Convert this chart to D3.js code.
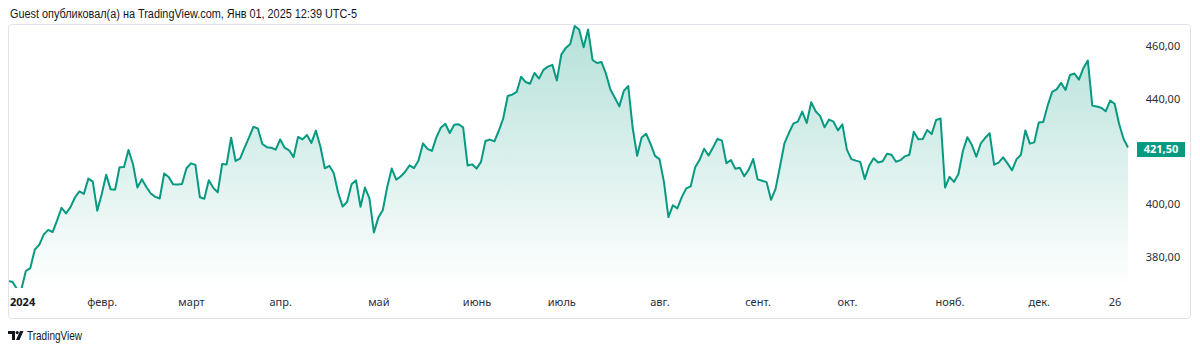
<!DOCTYPE html>
<html>
<head>
<meta charset="utf-8">
<script src="https://cdn.jsdelivr.net/npm/d3@7"></script>
<style>
  body { margin: 0; background: #fff; }
  svg { display: block; font-family: "Noto Sans", Roboto, sans-serif; }
</style>
</head>
<body>
<script>
var w = 1200;
var h = 352;

// trading days of 2024
var dates = [
  "2024-01-02","2024-01-03","2024-01-04","2024-01-05","2024-01-08","2024-01-09","2024-01-10","2024-01-11","2024-01-12","2024-01-16","2024-01-17","2024-01-18","2024-01-19","2024-01-22","2024-01-23","2024-01-24","2024-01-25","2024-01-26","2024-01-29","2024-01-30","2024-01-31",
  "2024-02-01","2024-02-02","2024-02-05","2024-02-06","2024-02-07","2024-02-08","2024-02-09","2024-02-12","2024-02-13","2024-02-14","2024-02-15","2024-02-16","2024-02-20","2024-02-21","2024-02-22","2024-02-23","2024-02-26","2024-02-27","2024-02-28","2024-02-29",
  "2024-03-01","2024-03-04","2024-03-05","2024-03-06","2024-03-07","2024-03-08","2024-03-11","2024-03-12","2024-03-13","2024-03-14","2024-03-15","2024-03-18","2024-03-19","2024-03-20","2024-03-21","2024-03-22","2024-03-25","2024-03-26","2024-03-27","2024-03-28",
  "2024-04-01","2024-04-02","2024-04-03","2024-04-04","2024-04-05","2024-04-08","2024-04-09","2024-04-10","2024-04-11","2024-04-12","2024-04-15","2024-04-16","2024-04-17","2024-04-18","2024-04-19","2024-04-22","2024-04-23","2024-04-24","2024-04-25","2024-04-26","2024-04-29","2024-04-30",
  "2024-05-01","2024-05-02","2024-05-03","2024-05-06","2024-05-07","2024-05-08","2024-05-09","2024-05-10","2024-05-13","2024-05-14","2024-05-15","2024-05-16","2024-05-17","2024-05-20","2024-05-21","2024-05-22","2024-05-23","2024-05-24","2024-05-28","2024-05-29","2024-05-30","2024-05-31",
  "2024-06-03","2024-06-04","2024-06-05","2024-06-06","2024-06-07","2024-06-10","2024-06-11","2024-06-12","2024-06-13","2024-06-14","2024-06-17","2024-06-18","2024-06-20","2024-06-21","2024-06-24","2024-06-25","2024-06-26","2024-06-27","2024-06-28",
  "2024-07-01","2024-07-02","2024-07-03","2024-07-05","2024-07-08","2024-07-09","2024-07-10","2024-07-11","2024-07-12","2024-07-15","2024-07-16","2024-07-17","2024-07-18","2024-07-19","2024-07-22","2024-07-23","2024-07-24","2024-07-25","2024-07-26","2024-07-29","2024-07-30","2024-07-31",
  "2024-08-01","2024-08-02","2024-08-05","2024-08-06","2024-08-07","2024-08-08","2024-08-09","2024-08-12","2024-08-13","2024-08-14","2024-08-15","2024-08-16","2024-08-19","2024-08-20","2024-08-21","2024-08-22","2024-08-23","2024-08-26","2024-08-27","2024-08-28","2024-08-29","2024-08-30",
  "2024-09-03","2024-09-04","2024-09-05","2024-09-06","2024-09-09","2024-09-10","2024-09-11","2024-09-12","2024-09-13","2024-09-16","2024-09-17","2024-09-18","2024-09-19","2024-09-20","2024-09-23","2024-09-24","2024-09-25","2024-09-26","2024-09-27","2024-09-30",
  "2024-10-01","2024-10-02","2024-10-03","2024-10-04","2024-10-07","2024-10-08","2024-10-09","2024-10-10","2024-10-11","2024-10-14","2024-10-15","2024-10-16","2024-10-17","2024-10-18","2024-10-21","2024-10-22","2024-10-23","2024-10-24","2024-10-25","2024-10-28","2024-10-29","2024-10-30","2024-10-31",
  "2024-11-01","2024-11-04","2024-11-05","2024-11-06","2024-11-07","2024-11-08","2024-11-11","2024-11-12","2024-11-13","2024-11-14","2024-11-15","2024-11-18","2024-11-19","2024-11-20","2024-11-21","2024-11-22","2024-11-25","2024-11-26","2024-11-27","2024-11-29",
  "2024-12-02","2024-12-03","2024-12-04","2024-12-05","2024-12-06","2024-12-09","2024-12-10","2024-12-11","2024-12-12","2024-12-13","2024-12-16","2024-12-17","2024-12-18","2024-12-19","2024-12-20","2024-12-23","2024-12-24","2024-12-26","2024-12-27","2024-12-30","2024-12-31"
];

// closing prices, one per trading day
var closes = [
  370.87,370.60,367.94,367.75,374.69,375.79,382.77,384.63,388.47,390.27,389.47,393.87,398.67,396.51,398.90,402.56,404.87,403.93,409.72,408.59,397.58,
  403.78,411.22,405.65,405.49,414.05,414.11,420.55,415.26,406.32,409.49,406.56,404.06,402.79,402.18,411.65,410.34,407.54,407.48,407.72,413.64,
  415.50,414.92,402.65,402.09,409.14,406.22,404.52,415.28,415.10,425.22,416.42,417.32,421.41,425.23,429.37,428.74,422.86,421.65,421.43,420.72,
  424.57,421.44,420.45,417.88,425.52,424.59,426.28,423.26,427.93,421.90,413.64,414.58,411.84,404.27,399.12,400.96,407.57,409.06,399.04,406.32,402.25,389.33,
  394.94,397.84,406.66,413.54,409.34,410.54,412.32,414.74,413.72,416.56,423.08,420.99,420.21,425.34,429.04,430.52,427.00,430.16,430.32,429.17,414.67,415.13,
  413.52,416.07,424.01,424.52,423.85,427.87,432.68,441.06,441.58,442.57,448.37,446.34,445.70,449.78,447.67,450.95,452.16,452.85,446.95,
  456.73,459.28,460.77,467.56,466.24,459.54,466.25,454.70,453.55,453.96,449.52,443.52,440.37,437.11,442.94,444.85,428.90,418.40,425.27,426.73,422.92,418.35,
  417.11,408.49,395.15,399.61,398.43,402.69,406.02,406.81,414.01,416.86,421.03,418.47,421.53,424.80,424.14,415.55,416.79,413.49,413.84,410.60,413.12,417.14,
  409.44,408.90,408.39,401.70,405.72,414.20,423.04,427.00,430.59,431.34,435.15,430.81,438.69,435.27,433.51,429.17,432.11,431.31,428.02,430.30,
  420.69,417.13,416.54,416.06,409.54,414.71,417.46,415.84,416.32,419.14,418.74,416.12,416.72,418.16,418.78,427.51,424.60,424.73,428.15,426.59,431.95,432.53,406.35,
  410.37,408.46,411.46,420.18,425.43,422.54,418.01,423.03,425.20,426.89,415.00,415.76,417.79,415.49,412.87,417.00,418.79,427.99,422.99,423.46,
  430.98,431.20,437.42,442.62,443.57,446.02,443.33,448.99,449.56,447.27,451.59,454.46,437.39,437.03,436.60,435.25,439.33,438.11,430.53,424.83,421.50
];

var tickDates = ["2024-01-02","2024-02-01","2024-03-01","2024-04-01","2024-05-01","2024-06-03","2024-07-01","2024-08-01","2024-09-03","2024-10-01","2024-11-01","2024-12-02","2024-12-26"];
var tickLabels = ["2024","февр.","март","апр.","май","июнь","июль","авг.","сент.","окт.","нояб.","дек.","26"];
var yTicks = [380, 400, 440, 460];

var green = "#089981";
var plotBottom = 288;

var svg = d3.select("body").append("svg")
    .attr("width", w)
    .attr("height", h);

// header
svg.append("text")
    .attr("x", 10)
    .attr("y", 18)
    .attr("font-size", 12)
    .attr("font-family", "\"Liberation Sans\", Arial, sans-serif")
    .attr("textLength", 347)
    .attr("lengthAdjust", "spacingAndGlyphs")
    .attr("fill", "#131722")
    .text("Guest опубликовал(а) на TradingView.com, Янв 01, 2025 12:39 UTC-5");

// chart frame
svg.append("rect")
    .attr("x", 8.5).attr("y", 24.5)
    .attr("width", 1182).attr("height", 294)
    .attr("rx", 3)
    .attr("fill", "#fff")
    .attr("stroke", "#e0e3eb");

var xScale = d3.scalePoint()
    .domain(dates)
    .range([8, 1128]);

var yScale = d3.scaleLinear()
    .domain([380, 460])
    .range([257, 46]);

var defs = svg.append("defs");
var grad = defs.append("linearGradient")
    .attr("id", "fillGrad")
    .attr("gradientUnits", "userSpaceOnUse")
    .attr("x1", 0).attr("y1", 26)
    .attr("x2", 0).attr("y2", plotBottom);
grad.append("stop").attr("offset", "0%").attr("stop-color", green).attr("stop-opacity", 0.3);
grad.append("stop").attr("offset", "100%").attr("stop-color", green).attr("stop-opacity", 0.0);

defs.append("clipPath").attr("id", "plotClip")
  .append("rect").attr("x", 9).attr("y", 25).attr("width", 1180).attr("height", plotBottom - 25);

var plot = svg.append("g").attr("clip-path", "url(#plotClip)");

var area = d3.area()
    .x(function(d, i) { return xScale(dates[i]); })
    .y0(plotBottom)
    .y1(function(d) { return yScale(d); });

var line = d3.line()
    .x(function(d, i) { return xScale(dates[i]); })
    .y(function(d) { return yScale(d); });

plot.append("path")
    .datum(closes)
    .attr("d", area)
    .attr("fill", "url(#fillGrad)");

plot.append("path")
    .datum(closes)
    .attr("d", line)
    .attr("fill", "none")
    .attr("stroke", green)
    .attr("stroke-width", 2)
    .attr("stroke-linejoin", "round");

// time axis
var xAxis = svg.append("g")
    .attr("transform", "translate(0," + 298 + ")")
    .call(d3.axisBottom(xScale)
        .tickValues(tickDates)
        .tickSize(0)
        .tickPadding(0)
        .tickFormat(function(d, i) { return tickLabels[i]; }));
xAxis.select(".domain").remove();
xAxis.selectAll("text")
    .attr("dy", "0.71em")
    .attr("font-size", 11)
    .attr("font-family", "\"Noto Sans\", Roboto, sans-serif")
    .attr("fill", "#2a2e39");
xAxis.selectAll(".tick").filter(function(d, i) { return i === 0; })
    .attr("transform", "translate(10,0)")
    .select("text")
    .attr("text-anchor", "start")
    .attr("font-weight", "bold")
    .attr("fill", "#131722");

// price axis
var fmt = function(v) { return d3.format(".2f")(v).replace(".", ","); };
var yAxis = svg.append("g")
    .attr("transform", "translate(1163,0)")
    .call(d3.axisRight(yScale)
        .tickValues(yTicks)
        .tickSize(0)
        .tickPadding(0)
        .tickFormat(fmt));
yAxis.select(".domain").remove();
yAxis.selectAll("text")
    .attr("text-anchor", "middle")
    .attr("font-size", 11)
    .attr("font-family", "\"Noto Sans\", Roboto, sans-serif")
    .attr("fill", "#2a2e39");

// last price label
var last = closes[closes.length - 1];
var ly = yScale(last) + 2;
svg.append("rect")
    .attr("x", 1137).attr("y", ly - 7.5)
    .attr("width", 48).attr("height", 15)
    .attr("fill", green);
svg.append("text")
    .attr("x", 1161).attr("y", ly)
    .attr("dy", "0.35em")
    .attr("text-anchor", "middle")
    .attr("font-size", 11)
    .attr("font-weight", "bold")
    .attr("fill", "#fff")
    .text(fmt(last));

// logo
var logo = svg.append("g").attr("transform", "translate(8,331)");
logo.append("path").attr("d", "M0,0 H7 V9 H4 V3 H0 Z").attr("fill", "#131722");
logo.append("circle").attr("cx", 9.2).attr("cy", 1.6).attr("r", 1.6).attr("fill", "#131722");
logo.append("path").attr("d", "M12,0 H15.5 L11.5,9 H8 Z").attr("fill", "#131722");
svg.append("text")
    .attr("x", 27)
    .attr("y", 340)
    .attr("font-size", 13)
    .attr("font-family", "\"Liberation Sans\", Arial, sans-serif")
    .attr("textLength", 55)
    .attr("lengthAdjust", "spacingAndGlyphs")
    .attr("fill", "#131722")
    .text("TradingView");
</script>
</body>
</html>
